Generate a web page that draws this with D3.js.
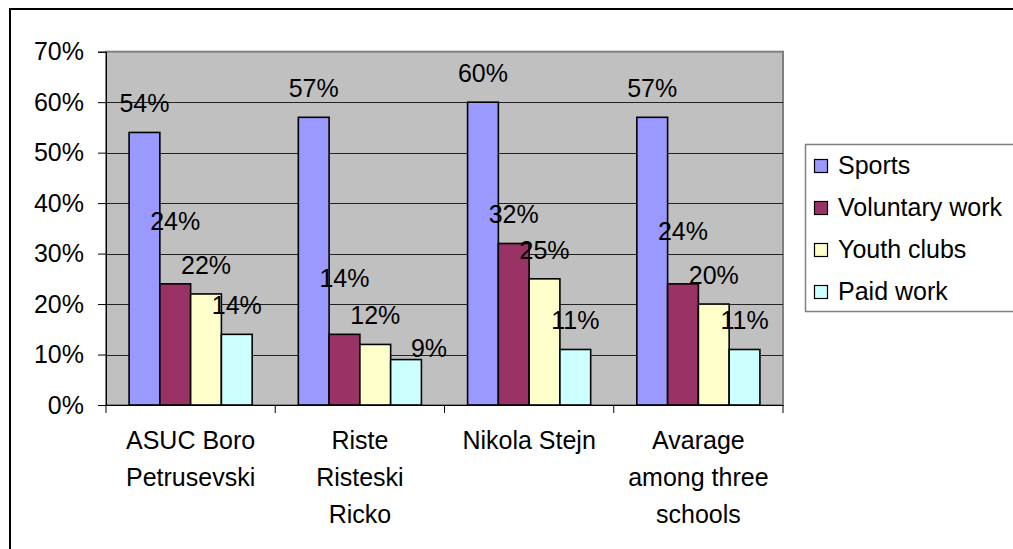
<!DOCTYPE html>
<html>
<head>
<meta charset="utf-8">
<script src="https://cdn.jsdelivr.net/npm/d3@7"></script>
<style>
	html, body { margin: 0; padding: 0; background: #ffffff; }
	svg { display: block; font-family: "Liberation Sans", Arial, sans-serif; }
</style>
</head>
<body>
<div id="chart"></div>
<script>
// DATA
const categories = ['ASUC Boro Petrusevski', 'Riste Risteski Ricko', 'Nikola Stejn', 'Avarage among three schools'];
const categoryLines = [['ASUC Boro', 'Petrusevski'], ['Riste', 'Risteski', 'Ricko'], ['Nikola Stejn'], ['Avarage', 'among three', 'schools']];
const seriesNames = ['Sports', 'Voluntary work', 'Youth clubs', 'Paid work'];
const sports = [0.54, 0.57, 0.60, 0.57];
const voluntaryWork = [0.24, 0.14, 0.32, 0.24];
const youthClubs = [0.22, 0.12, 0.25, 0.20];
const paidWork = [0.14, 0.09, 0.11, 0.11];
const yTicks = [0, 0.1, 0.2, 0.3, 0.4, 0.5, 0.6, 0.7];

const seriesValues = [sports, voluntaryWork, youthClubs, paidWork];
const colors = ['#9999ff', '#993366', '#ffffcc', '#ccffff'];

// hand-moved labels in the original (pixels, [series][category])
const labelNudges = { '1-0': [0, -34], '1-1': [0, -27], '1-3': [0, -24], '3-1': [23, 18] };

const W = 1013, H = 549;
const plot = { left: 106, right: 783, top: 51.7, bottom: 405 };
const font = 25;

const svg = d3.select('#chart').append('svg').attr('width', W).attr('height', H);

// outer chart border (runs off the right/bottom edge)
svg.append('rect')
	.attr('x', 10).attr('y', 9).attr('width', W + 20).attr('height', H + 20)
	.attr('fill', '#ffffff').attr('stroke', '#000000').attr('stroke-width', 2);

const x0 = d3.scaleBand().domain(categories).range([plot.left, plot.right]);
const x1 = d3.scaleBand().domain(seriesNames).range([0, x0.bandwidth()]).paddingInner(0).paddingOuter(0.75);
const y = d3.scaleLinear().domain([0, 0.7]).range([plot.bottom, plot.top]);

// plot area
svg.append('rect')
	.attr('x', plot.left).attr('y', plot.top)
	.attr('width', plot.right - plot.left).attr('height', plot.bottom - plot.top)
	.attr('fill', '#c0c0c0').attr('stroke', '#808080').attr('stroke-width', 2);

// gridlines
svg.append('g')
	.selectAll('line')
	.data(yTicks.filter(t => t > 0 && t < 0.7))
	.enter()
	.append('line')
	.attr('x1', plot.left).attr('x2', plot.right)
	.attr('y1', d => Math.round(y(d)) + 0.5).attr('y2', d => Math.round(y(d)) + 0.5)
	.attr('stroke', '#222222').attr('stroke-width', 1);

// bars
const groups = svg.append('g')
	.selectAll('g')
	.data(categories)
	.enter()
	.append('g')
	.attr('transform', d => `translate(${x0(d)},0)`);

groups.selectAll('rect')
	.data((c, ci) => seriesNames.map((s, si) => ({ s, si, ci, v: seriesValues[si][ci] })))
	.enter()
	.append('rect')
	.attr('x', d => x1(d.s))
	.attr('y', d => y(d.v))
	.attr('width', x1.bandwidth())
	.attr('height', d => plot.bottom - y(d.v))
	.attr('fill', d => colors[d.si])
	.attr('stroke', '#000000')
	.attr('stroke-width', 1.6);

// axes
const yAxis = svg.append('g')
	.attr('transform', `translate(${plot.left},0)`)
	.call(d3.axisLeft(y).tickValues(yTicks).tickFormat(d3.format('.0%')).tickSize(8).tickPadding(14));
yAxis.select('.domain').attr('stroke', '#000000').attr('stroke-width', 1);
yAxis.selectAll('.tick line').attr('stroke', '#000000');
yAxis.selectAll('text')
	.style('font-size', `${font}px`)
	.style('font-family', '"Liberation Sans", Arial, sans-serif')
	.attr('fill', '#000000');

const xAxis = svg.append('g')
	.attr('transform', `translate(0,${plot.bottom})`)
	.call(d3.axisBottom(x0).tickValues([]).tickSizeOuter(0));
xAxis.select('.domain').attr('stroke', '#000000').attr('stroke-width', 1);
xAxis.selectAll('.edge')
	.data(categories.concat(['end']))
	.enter()
	.append('line')
	.attr('class', 'edge')
	.attr('x1', (d, i) => i < categories.length ? x0(d) : plot.right)
	.attr('x2', (d, i) => i < categories.length ? x0(d) : plot.right)
	.attr('y1', 0).attr('y2', 8)
	.attr('stroke', '#000000');

// category labels
const catText = svg.append('g')
	.selectAll('text')
	.data(categories)
	.enter()
	.append('text')
	.attr('text-anchor', 'middle')
	.attr('transform', d => `translate(${x0(d) + x0.bandwidth() / 2},${plot.bottom + 44})`)
	.style('font-size', `${font}px`)
	.attr('fill', '#000000');
catText.selectAll('tspan')
	.data((d, i) => categoryLines[i])
	.enter()
	.append('tspan')
	.attr('x', 0)
	.attr('y', (d, i) => i * 37)
	.text(d => d);

// value labels
groups.selectAll('text')
	.data((c, ci) => seriesNames.map((s, si) => ({ s, si, ci, v: seriesValues[si][ci] })))
	.enter()
	.append('text')
	.attr('text-anchor', 'middle')
	.attr('dy', '0.35em')
	.attr('x', d => x1(d.s) + x1.bandwidth() / 2 + (labelNudges[`${d.si}-${d.ci}`] || [0, 0])[0])
	.attr('y', d => y(d.v) - 29 + (labelNudges[`${d.si}-${d.ci}`] || [0, 0])[1])
	.style('font-size', `${font}px`)
	.attr('fill', '#000000')
	.text(d => d3.format('.0%')(d.v));

// legend
const legend = svg.append('g');
legend.append('rect')
	.attr('x', 805.5).attr('y', 144.5).attr('width', 260).attr('height', 167)
	.attr('fill', '#ffffff').attr('stroke', '#808080').attr('stroke-width', 1.5);
const items = legend.selectAll('g.item')
	.data(seriesNames)
	.enter()
	.append('g')
	.attr('class', 'item')
	.attr('transform', (d, i) => `translate(814,${165 + i * 42})`);
items.append('rect')
	.attr('x', 0.5).attr('y', -5.5).attr('width', 13).attr('height', 13)
	.attr('fill', (d, i) => colors[i]).attr('stroke', '#000000').attr('stroke-width', 1.2);
items.append('text')
	.attr('x', 24).attr('dy', '0.35em')
	.style('font-size', `${font}px`)
	.attr('fill', '#000000')
	.text(d => d);
</script>
</body>
</html>
